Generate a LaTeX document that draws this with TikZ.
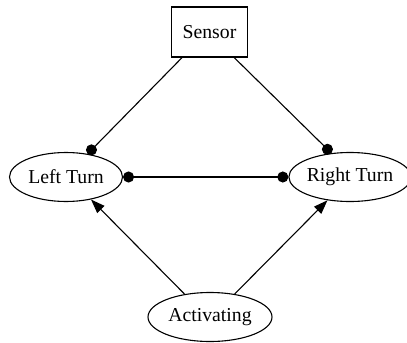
\documentclass[tikz,border=0pt]{standalone}
\usepackage{fontspec}
\setmainfont{Liberation Serif}
\usetikzlibrary{arrows.meta,shapes.geometric}
\begin{document}
\begin{tikzpicture}[x=1bp,y=-1bp,
  every node/.style={font=\fontsize{19.8}{23}\selectfont, inner sep=0pt, line width=1.1bp},
  boxnode/.style={draw, rectangle, minimum width=76bp, minimum height=50bp},
  ovalnode/.style={draw, ellipse, minimum height=49bp},
  linkline/.style={line width=1.1bp},
  dotend/.style={linkline, -{Circle[length=11bp]}},
  dotboth/.style={linkline, {Circle[length=11bp]}-{Circle[length=11bp]}},
  arrowend/.style={linkline, -{Triangle[length=14bp, width=10bp]}}]
  \useasboundingbox (0,0) rectangle (407,343);

  \node[boxnode] (sensor) at (209.5,32) {Sensor};
  \node[ovalnode, minimum width=113bp] (left) at (66,177) {Left Turn};
  \node[ovalnode, minimum width=114bp] (right) at (350,177) {Right Turn};
  \node[ovalnode, minimum width=124bp] (act) at (210,317) {Activating};

  \draw[dotend] (sensor.223) -- (left.47.6);
  \draw[dotend] (sensor.314) -- (right.128);
  \draw[dotboth] (left.east) -- (right.west);
  \draw[arrowend] (act.138.7) -- (left.318.5);
  \draw[arrowend] (act.43.7) -- (right.226.2);
\end{tikzpicture}
\end{document}
